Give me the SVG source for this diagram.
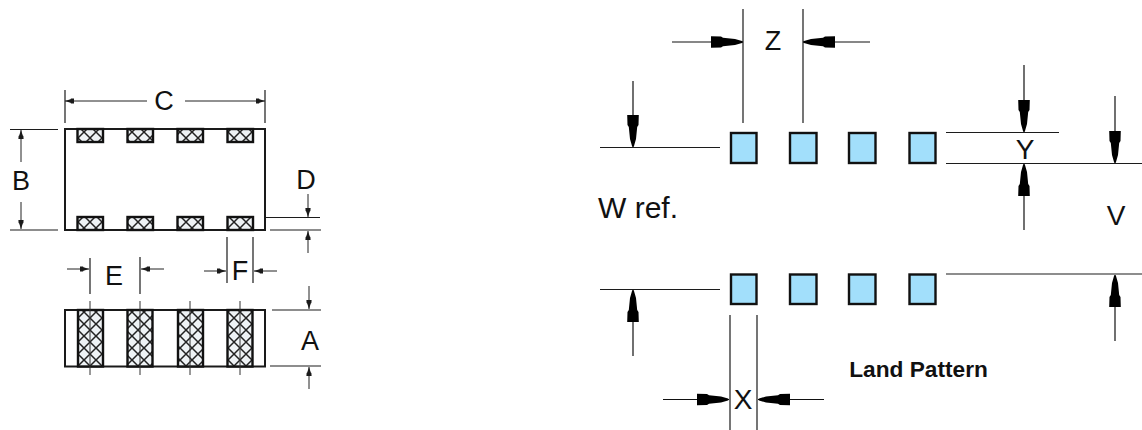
<svg xmlns="http://www.w3.org/2000/svg" width="1142" height="430" viewBox="0 0 1142 430">
<style>
.l{stroke:#1c1c1c;stroke-width:1.2;fill:none}
.s{stroke:#222;stroke-width:1;fill:none;marker-end:url(#sa)}
.b{stroke:#111;stroke-width:1.2;fill:none;marker-end:url(#ba)}
.body{fill:#fff;stroke:#1a1a1a;stroke-width:2}
.pad{fill:url(#hatch);stroke:#111;stroke-width:2.4}
.land{fill:#a2dffb;stroke:#111;stroke-width:2.4}
.t{stroke:#333;stroke-width:1;fill:none}
text{font-family:"Liberation Sans",Arial,sans-serif;fill:#111;text-anchor:middle;dominant-baseline:central}
</style>
<defs>
<pattern id="hatch" width="12" height="12" patternUnits="userSpaceOnUse">
<rect width="12" height="12" fill="#eef2f5"/>
<path d="M0 0L12 12M12 0L0 12" stroke="#222" stroke-width="1.5"/>
</pattern>
<marker id="sa" markerUnits="userSpaceOnUse" markerWidth="10" markerHeight="6" refX="9" refY="3" orient="auto" overflow="visible">
<path d="M0 .4L3 .6L3.5 1.2L9 3L3.5 4.8L3 5.4L0 5.6Z" fill="#1a1a1a"/>
</marker>
<marker id="ba" markerUnits="userSpaceOnUse" markerWidth="33" markerHeight="14" refX="32" refY="7" orient="auto" overflow="visible">
<path d="M0 1.200L10 1.500L12 2.800L24 4L31 6L32 7L31 8L24 10L12 11.200L10 12.500L0 12.800Z" fill="#000"/>
</marker>
</defs>

<g id="connectors">
<!-- C -->
<path class="l" d="M65 90V123M265 90V123"/>
<path class="s" d="M147 101H65"/>
<path class="s" d="M185 101H265"/>
<!-- B -->
<path class="l" d="M10 129.500H58M10 230H58"/>
<path class="s" d="M21 162V130"/>
<path class="s" d="M21 202V229"/>
<!-- D -->
<path class="l" d="M260 217.500H320M270 230H321"/>
<path class="s" d="M308 194V217"/>
<path class="s" d="M308 253V231"/>
<!-- E -->
<path class="l" d="M90 258V294M140 257V294"/>
<path class="s" d="M67 269H89"/>
<path class="s" d="M164 269H141"/>
<!-- F -->
<path class="l" d="M227 237V283M253 237V283"/>
<path class="s" d="M204 271H226"/>
<path class="s" d="M277 271H254"/>
<!-- A -->
<path class="l" d="M272 310H321M270 366H321"/>
<path class="s" d="M309 286V309"/>
<path class="s" d="M309 389V367"/>
<!-- Z -->
<path class="l" d="M743 9V123M803 9V123"/>
<path class="b" d="M672 42H743"/>
<path class="b" d="M870 42H803"/>
<!-- W -->
<path class="l" d="M600 147.500H720M600 289.500H720"/>
<path class="b" d="M633 81V147"/>
<path class="b" d="M633 356V290"/>
<!-- X -->
<path class="l" d="M730 315V430M757 315V430"/>
<path class="b" d="M663 399.500H729"/>
<path class="b" d="M824 399.500H758"/>
<!-- Y -->
<path class="l" d="M946 132.500H1059M946 163.500H1142"/>
<path class="b" d="M1024 65V132"/>
<path class="b" d="M1024 230V164"/>
<!-- V -->
<path class="l" d="M946 274H1142"/>
<path class="b" d="M1115 96V163"/>
<path class="b" d="M1115 341V275"/>
</g>

<g id="package-top">
<rect class="body" x="65" y="129" width="200" height="101"/>
<rect class="pad" x="77.500" y="129" width="25.500" height="13"/>
<rect class="pad" x="127.500" y="129" width="25.500" height="13"/>
<rect class="pad" x="177.500" y="129" width="25.500" height="13"/>
<rect class="pad" x="227.500" y="129" width="25.500" height="13"/>
<rect class="pad" x="77.500" y="217" width="25.500" height="13"/>
<rect class="pad" x="127.500" y="217" width="25.500" height="13"/>
<rect class="pad" x="177.500" y="217" width="25.500" height="13"/>
<rect class="pad" x="227.500" y="217" width="25.500" height="13"/>
</g>

<g id="package-side">
<rect class="body" x="65" y="310" width="200" height="56.500"/>
<rect class="pad" x="78" y="310" width="25" height="56.500"/>
<rect class="pad" x="127.500" y="310" width="25" height="56.500"/>
<rect class="pad" x="178" y="310" width="25" height="56.500"/>
<rect class="pad" x="227.500" y="310" width="25" height="56.500"/>
<path class="t" d="M90 301V375M140 301V375M190 301V375M240 301V375"/>
</g>

<g id="land-pattern-top">
<rect class="land" x="731" y="133" width="25.500" height="30"/>
<rect class="land" x="790" y="133" width="26.500" height="30"/>
<rect class="land" x="849" y="133" width="26.500" height="30"/>
<rect class="land" x="909.500" y="133" width="26" height="30"/>
</g>
<g id="land-pattern-bottom">
<rect class="land" x="731" y="274.500" width="25.500" height="29.500"/>
<rect class="land" x="790" y="274.500" width="26.500" height="29.500"/>
<rect class="land" x="849" y="274.500" width="26.500" height="29.500"/>
<rect class="land" x="909.500" y="274.500" width="26" height="29.500"/>
</g>

<g id="labels">
<text x="164" y="101" font-size="27">C</text>
<text x="21" y="181" font-size="27">B</text>
<text x="306" y="180" font-size="27">D</text>
<text x="114" y="276" font-size="27">E</text>
<text x="240" y="271" font-size="27">F</text>
<text x="310" y="341" font-size="27">A</text>
<text x="773" y="41" font-size="27">Z</text>
<text x="1025" y="149" font-size="28">Y</text>
<text x="1116" y="215" font-size="28">V</text>
<text x="743" y="399" font-size="28">X</text>
<text x="638" y="207" font-size="30">W ref.</text>
<text x="918.500" y="369" font-size="22.700" font-weight="bold">Land Pattern</text>
</g>
</svg>
